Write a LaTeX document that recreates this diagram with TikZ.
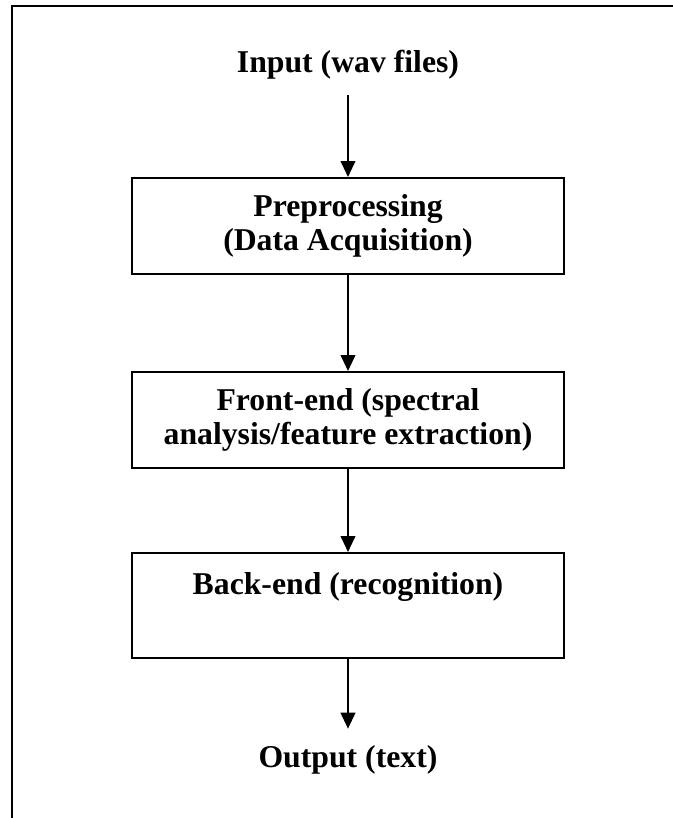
\documentclass[tikz,border=0pt]{standalone}
\usepackage{fontspec}
\setmainfont{Liberation Serif}
\usetikzlibrary{arrows.meta}
\begin{document}
\begin{tikzpicture}[x=0.75pt,y=-0.75pt,
  lbl/.style={font=\bfseries\fontsize{23.8}{25}\selectfont, inner sep=0pt, align=center},
  stagebox/.style={lbl, draw, line width=1.5pt, minimum width=324pt, minimum height=72pt},
  flow/.style={line width=1.4pt, -{Triangle[width=11pt,length=12pt]}}]
\useasboundingbox (0,0) rectangle (673,818);
% page frame (top and left edges)
\draw[line width=1.6pt] (12,818) -- (12,6) -- (673,6);
% stages
\node[lbl, anchor=base] (in) at (348,72) {Input (wav files)};
\node[stagebox] (pre) at (348,226) {Preprocessing\\(Data Acquisition)};
\node[stagebox] (fe) at (348,420) {Front-end (spectral\\analysis/feature extraction)};
\node[stagebox, minimum height=78.75pt] (be) at (348,605.5) {Back-end (recognition)\\\strut};
\node[lbl, anchor=base] (out) at (348,767) {Output (text)};
% connectors
\draw[flow, shorten <=12pt] (in.south) -- (pre.north);
\draw[flow] (pre.south) -- (fe.north);
\draw[flow] (fe.south) -- (be.north);
\draw[flow, shorten >=12pt] (be.south) -- (out.north);
\end{tikzpicture}
\end{document}
